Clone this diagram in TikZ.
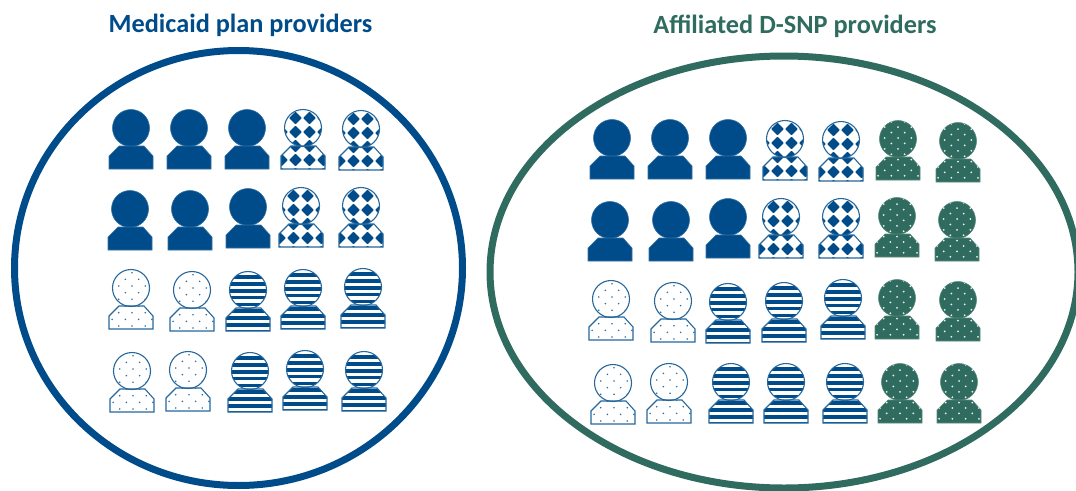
\documentclass[tikz,border=0pt]{standalone}
\usepackage{fontspec}
\setmainfont{Carlito}
\definecolor{bluep}{HTML}{004C8A}
\definecolor{greenp}{HTML}{2F6B5E}
\tikzset{
  ring/.style={line width=7pt,draw=#1},
  title/.style={font=\bfseries\fontsize{26.3}{30}\selectfont,text=#1,inner sep=0pt},
  solidp/.style={fill=bluep,draw=bluep!80,line width=.6pt},
  outlinep/.style={draw=bluep!85,line width=1.1pt},
  greenshape/.style={fill=greenp,draw=greenp!80,line width=.6pt}
}
\newcommand\headshape{(0,0) circle[radius=18.5pt]}
\newcommand\bodyshape{(-22,41) -- (22,41) -- (22,28) -- (13,18) -- (-12,18) -- (-22,28) -- cycle}
\newcommand\diamondfill{%
  \foreach \gi in {-3,...,3}{\foreach \gj in {-3,...,4}{
    \fill[bluep,rounded corners=.8pt] ({\gi*14-7.5-6.4},{\gj*14+4}) -- ({\gi*14-7.5},{\gj*14+4-6.4}) -- ({\gi*14-7.5+6.4},{\gj*14+4}) -- ({\gi*14-7.5},{\gj*14+4+6.4}) -- cycle;
  }}}
\newcommand\stripefill{%
  \foreach \gj in {-5,...,8}{
    \fill[bluep] (-26,{\gj*6.8-1}) rectangle (26,{\gj*6.8+2.6});
  }}
\newcommand\bluedots{%
  \foreach \gj in {-4,...,8}{\foreach \gi in {-3,...,3}{
    \fill[bluep!80] ({\gi*13.3+1+6.65*mod(\gj+20,2)},{\gj*6.67-2}) circle[radius=.9pt];
  }}}
\newcommand\greendots{%
  \foreach \gj in {-5,...,10}{\foreach \gi in {-3,...,3}{
    \fill[white!90!greenp] ({\gi*13.3+6.65*mod(\gj+20,2)},{\gj*5.4-1}) circle[radius=1pt];
  }}}
\newcommand\clipped[1]{%
  \begin{scope}\clip \headshape; #1\end{scope}%
  \begin{scope}\clip \bodyshape; #1\end{scope}}
\newcommand\psolid[2]{\begin{scope}[shift={(#1,#2)}]
  \path[solidp] \headshape; \path[solidp] \bodyshape; \end{scope}}
\newcommand\pdiamond[2]{\begin{scope}[shift={(#1,#2)}]
  \clipped{\diamondfill}\path[outlinep] \headshape; \path[outlinep] \bodyshape; \end{scope}}
\newcommand\pstripe[2]{\begin{scope}[shift={(#1,#2)}]
  \clipped{\stripefill}\path[outlinep] \headshape; \path[outlinep] \bodyshape; \end{scope}}
\newcommand\pdots[2]{\begin{scope}[shift={(#1,#2)}]
  \clipped{\bluedots}\path[outlinep] \headshape; \path[outlinep] \bodyshape; \end{scope}}
\newcommand\pgreen[2]{\begin{scope}[shift={(#1,#2)}]
  \path[greenshape] \headshape; \path[greenshape] \bodyshape;
  \clipped{\greendots}\end{scope}}
\begin{document}
\begin{tikzpicture}[x=1pt,y=-1pt]
\useasboundingbox (0,0) rectangle (1076,490);
\clip (0,0) rectangle (1076,490);
\node[title=bluep] (titleA) at (240.5,25) {Medicaid plan providers};
\node[title=greenp] (titleB) at (795,26) {Affiliated D-SNP providers};
\draw[ring=bluep] (238.5,268) ellipse[x radius=224pt,y radius=217.5pt];
\draw[ring=greenp] (784,272) ellipse[x radius=294pt,y radius=216pt];
% left group
\foreach \px/\py in {131/128,189/128,247/128,130/209,190/209,248/207}{\psolid{\px}{\py}}
\foreach \px/\py in {303/128,361/129,301/206,361/206}{\pdiamond{\px}{\py}}
\foreach \px/\py in {131/288,192/290,132/371,188/370}{\pdots{\px}{\py}}
\foreach \px/\py in {248/290,303/288,363/287,250/371,305/369,364/370}{\pstripe{\px}{\py}}
% right group
\foreach \px/\py in {612/138,670/138,728/138,610/220,671/220,728/217}{\psolid{\px}{\py}}
\foreach \px/\py in {785/139,841/140,781/217,841/217}{\pdiamond{\px}{\py}}
\foreach \px/\py in {611/299,673/301,613/383,669/382}{\pdots{\px}{\py}}
\foreach \px/\py in {728/302,784/301,843/298,731/382,786/382,845/382}{\pstripe{\px}{\py}}
\foreach \px/\py in {898/139,958/141,897/216,957/220,897/298,958/300,900/382,959/382}{\pgreen{\px}{\py}}
\end{tikzpicture}
\end{document}
